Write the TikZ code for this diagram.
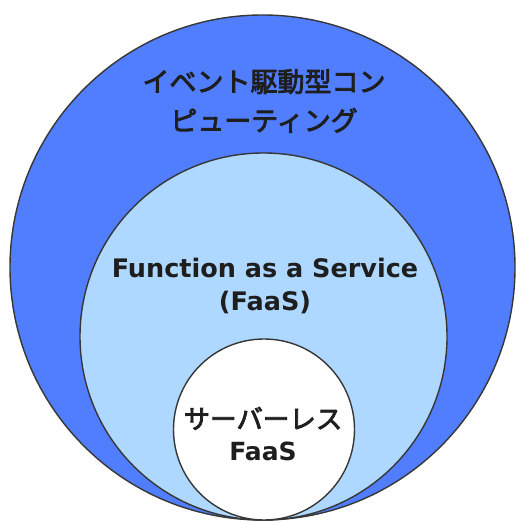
\documentclass[tikz,border=0pt]{standalone}
\usepackage{fontspec}
\setmainfont{DejaVu Sans}
\newfontfamily\jpfont[FakeBold=3]{Noto Sans CJK JP}
\definecolor{eventblue}{RGB}{80,126,255}
\definecolor{faasblue}{RGB}{174,216,255}
\definecolor{ringgray}{RGB}{55,55,55}
\definecolor{textgray}{RGB}{30,30,30}
\tikzset{
	ring/.style={circle, draw=ringgray, line width=1.4pt, inner sep=0pt},
	jplabel/.style={align=center, text=textgray, font=\jpfont\fontsize{27}{39}\selectfont},
	enlabel/.style={align=center, text=textgray, font=\bfseries\fontsize{25.5}{33}\selectfont}
}

\begin{document}
\begin{tikzpicture}[x=1pt, y=-1pt]
			%%%%% START %%%%%
			
			\useasboundingbox (0, 0) rectangle (515, 521);
			
			\node[ring, fill=eventblue, minimum size=505pt] (event) at (262.5, 267.5) {};
			\node[ring, fill=faasblue, minimum size=367pt] (faas) at (263.5, 336.5) {};
			\node[ring, fill=white, minimum size=181pt] (serverless) at (264, 429.5) {};
			
			\node[jplabel] (eventtext) at (264, 101) {イベント駆動型コン\\ピューティング};
			\node[enlabel] (faastext) at (265, 286) {Function as a Service\\(FaaS)};
			\node[jplabel, font=\jpfont\fontsize{26.5}{32}\selectfont] (serverlesstext) at (263, 434) {サーバーレス\\\bfseries\rmfamily\fontsize{25}{32}\selectfont FaaS};
			
			%%%%% END %%%%%
\end{tikzpicture}
\end{document}
